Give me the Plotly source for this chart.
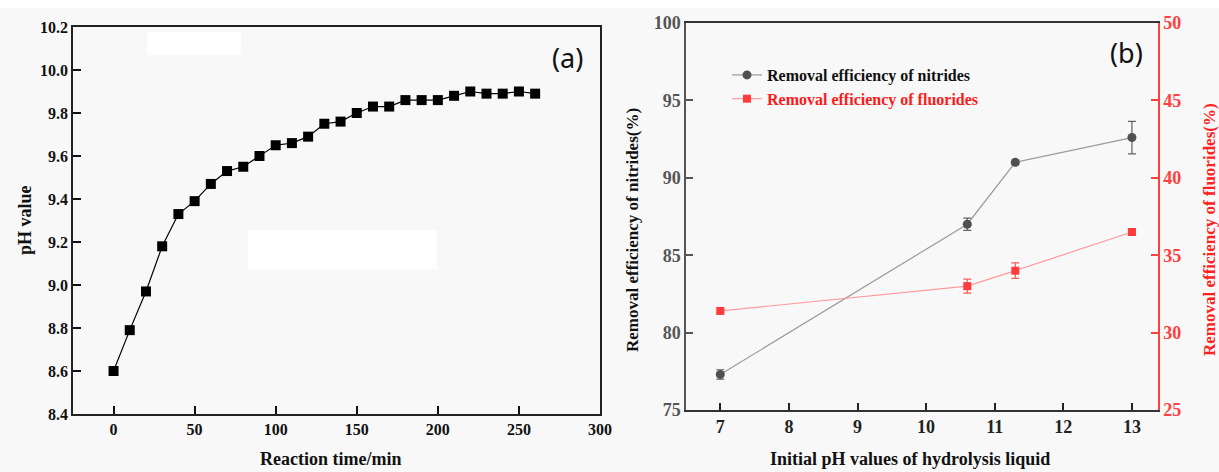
import plotly.graph_objects as go

# ---- Panel (a) data ----
time_min = [0, 10, 20, 30, 40, 50, 60, 70, 80, 90, 100, 110, 120, 130, 140,
            150, 160, 170, 180, 190, 200, 210, 220, 230, 240, 250, 260]
ph_value = [8.60, 8.79, 8.97, 9.18, 9.33, 9.39, 9.47, 9.53, 9.55, 9.60, 9.65, 9.66, 9.69, 9.75, 9.76,
            9.80, 9.83, 9.83, 9.86, 9.86, 9.86, 9.88, 9.90, 9.89, 9.89, 9.90, 9.89]
ticks_a_x = [0, 50, 100, 150, 200, 250, 300]
minor_a_x = [25, 75, 125, 175, 225, 275]
ticks_a_y = [8.4, 8.6, 8.8, 9.0, 9.2, 9.4, 9.6, 9.8, 10.0, 10.2]
minor_a_y = [8.5, 8.7, 8.9, 9.1, 9.3, 9.5, 9.7, 9.9, 10.1]

# ---- Panel (b) data ----
initial_ph = [7, 10.6, 11.3, 13]
nitrides = [77.3, 87.0, 91.0, 92.6]
nitrides_err = [0.3, 0.4, 0.15, 1.05]
fluorides = [31.4, 33.0, 34.0, 36.5]
fluorides_err = [0.1, 0.45, 0.5, 0.2]
ticks_b_x = [7, 8, 9, 10, 11, 12, 13]
minor_b_x = [7.5, 8.5, 9.5, 10.5, 11.5, 12.5]
ticks_b_left = [75, 80, 85, 90, 95, 100]
minor_b_left = [77.5, 82.5, 87.5, 92.5, 97.5]
ticks_b_right = [25, 30, 35, 40, 45, 50]
minor_b_right = [27.5, 32.5, 37.5, 42.5, 47.5]

SERIF = "Liberation Serif"
RANGE_A_X = [-25, 300]
RANGE_A_Y = [8.4, 10.2]
RANGE_B_X = [6.5, 13.38]
RANGE_B_L = [75, 100]
RANGE_B_R = [25, 50]

def bold(vals, fmt="{}"):
    return ["<b>" + fmt.format(v) + "</b>" for v in vals]

fig = go.Figure()

fig.add_trace(go.Scatter(
    x=time_min, y=ph_value, mode="lines+markers",
    line=dict(color="black", width=1.2),
    marker=dict(symbol="square", size=10, color="black"),
    showlegend=False, xaxis="x", yaxis="y"))

fig.add_trace(go.Scatter(
    x=initial_ph, y=nitrides, mode="lines+markers",
    name="<b>Removal efficiency of nitrides</b>",
    line=dict(color="#9a9a9a", width=1.2),
    marker=dict(symbol="circle", size=9, color="#505050"),
    error_y=dict(type="data", array=nitrides_err, color="#606060", thickness=1.2, width=4),
    xaxis="x2", yaxis="y2"))

fig.add_trace(go.Scatter(
    x=initial_ph, y=fluorides, mode="lines+markers",
    name="<b><span style='color:#ff1a1a'>Removal efficiency of fluorides</span></b>",
    line=dict(color="#ff9a9a", width=1.2),
    marker=dict(symbol="square", size=8, color="#ff3b3b"),
    error_y=dict(type="data", array=fluorides_err, color="#ff5a5a", thickness=1.2, width=4),
    xaxis="x2", yaxis="y3"))

def major(domain, anchor, rng, vals, text, font, color, linecolor, mirror=False, side=None, overlaying=None, ticklen=8):
    d = dict(anchor=anchor, range=rng, automargin=False,
             tickmode="array", tickvals=vals, ticktext=text,
             ticks="inside", ticklen=ticklen, tickwidth=1.5, tickcolor=color,
             showline=True, linecolor=linecolor, linewidth=1.5, mirror=mirror,
             showgrid=False, zeroline=False, tickfont=font)
    if domain is not None:
        d["domain"] = domain
    if side:
        d["side"] = side
    if overlaying:
        d["overlaying"] = overlaying
    return d

def minor(overlaying, anchor, rng, vals, color, side=None):
    d = dict(overlaying=overlaying, anchor=anchor, range=rng, automargin=False,
             tickmode="array", tickvals=vals, showticklabels=False,
             ticks="inside", ticklen=4, tickwidth=1.5, tickcolor=color,
             showline=False, showgrid=False, zeroline=False)
    if side:
        d["side"] = side
    return d

fa = dict(family=SERIF, size=16, color="#111", weight="bold")
fb = dict(family=SERIF, size=18, color="#222", weight="bold")

fig.update_layout(
    width=1219, height=472,
    margin=dict(l=0, r=0, t=0, b=0, autoexpand=False),
    paper_bgcolor="#f8f8f8", plot_bgcolor="rgba(0,0,0,0)",
    font=dict(family=SERIF),
    xaxis=major([73/1219, 600/1219], "y", RANGE_A_X, ticks_a_x, bold(ticks_a_x), fa, "#111", "#222", mirror=True),
    yaxis=major([1-414/472, 1-27/472], "x", RANGE_A_Y, ticks_a_y, bold(ticks_a_y, "{:.1f}"), fa, "#111", "#222", mirror=True),
    xaxis2=major([686/1219, 1158/1219], "y2", RANGE_B_X, ticks_b_x, bold(ticks_b_x), fb, "#222", "#333", mirror=True, ticklen=7),
    yaxis2=major([1-410/472, 1-23/472], "x2", RANGE_B_L, ticks_b_left, bold(ticks_b_left),
                 dict(family=SERIF, size=18, color="#555", weight="bold"), "#555", "#555", ticklen=7),
    yaxis3=major(None, "x2", RANGE_B_R, ticks_b_right, bold(ticks_b_right),
                 dict(family=SERIF, size=18, color="#ff4040", weight="bold"), "#ff4040", "#ff4040",
                 side="right", overlaying="y2", ticklen=7),
    xaxis3=minor("x", "y", RANGE_A_X, minor_a_x, "#111"),
    yaxis4=minor("y", "x", RANGE_A_Y, minor_a_y, "#111"),
    xaxis4=minor("x2", "y2", RANGE_B_X, minor_b_x, "#222"),
    yaxis5=minor("y2", "x2", RANGE_B_L, minor_b_left, "#555"),
    yaxis6=minor("y2", "x2", RANGE_B_R, minor_b_right, "#ff4040", side="right"),
    legend=dict(x=727/1219, y=1-58/472, xanchor="left", yanchor="top",
                bgcolor="rgba(0,0,0,0)", borderwidth=0,
                font=dict(family=SERIF, size=16, color="#111"),
                itemwidth=30, tracegroupgap=2),
)

# white patches present in the reference image
fig.add_shape(type="rect", xref="paper", yref="paper", x0=0, x1=1, y0=1-8/472, y1=1,
              fillcolor="white", line=dict(width=0), layer="below")
fig.add_shape(type="rect", xref="paper", yref="paper", x0=147/1219, x1=241/1219, y0=1-55/472, y1=1-32/472,
              fillcolor="white", line=dict(width=0), layer="below")
fig.add_shape(type="rect", xref="paper", yref="paper", x0=248/1219, x1=437/1219, y0=1-269/472, y1=1-230/472,
              fillcolor="white", line=dict(width=0), layer="below")

def A(text, x, y, size, color="#111", family=SERIF, angle=0):
    return dict(text=text, x=x/1219, y=1-y/472, xref="paper", yref="paper", showarrow=False,
                xanchor="center", yanchor="middle", textangle=angle,
                font=dict(family=family, size=size, color=color))

ann = [
    A("(a)", 567, 57, 27, family="Noto Sans"),
    A("(b)", 1126, 52, 27, family="Noto Sans"),
    A("<b>pH value</b>", 25, 220, 18, angle=-90),
    A("<b>Reaction time/min</b>", 330, 459, 18),
    A("<b>Removal efficiency of nitrides(%)</b>", 632, 230, 17, angle=-90),
    A("<b>Removal efficiency of fluorides(%)</b>", 1209, 230, 17, color="#ff2020", angle=-90),
    A("<b>Initial pH values of hydrolysis liquid</b>", 910, 459, 18),
]
fig.update_layout(annotations=ann)

fig.write_html("out.html")
